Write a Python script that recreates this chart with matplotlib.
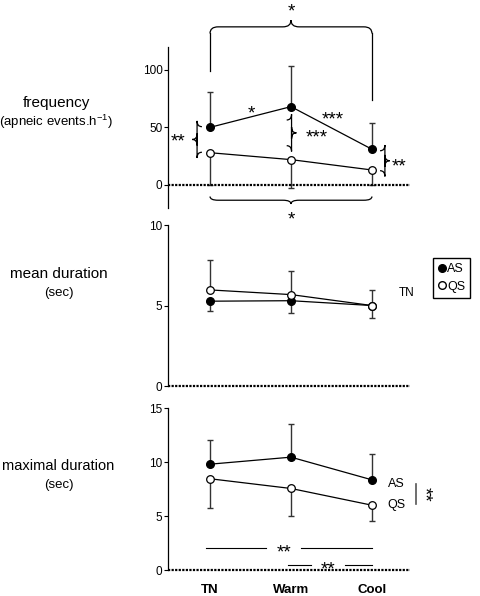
import matplotlib.pyplot as plt
from matplotlib.path import Path
from matplotlib.patches import PathPatch
from matplotlib.lines import Line2D

plt.rcParams['font.family'] = ['Liberation Sans', 'DejaVu Sans']

conditions = ["TN", "Warm", "Cool"]

# frequency (apneic events per hour)
freq_as = [50, 68, 31]
freq_as_sd = [31, 35, 23]
freq_qs = [28, 22, 13]
freq_qs_sd = [28, 25, 13]

# mean duration (sec)
mean_as = [5.27, 5.3, 5.0]
mean_as_sd = [0.6, 0.75, 0.75]
mean_qs = [5.97, 5.68, 5.0]
mean_qs_sd = [1.88, 1.44, 0.97]

# maximal duration (sec)
max_as = [9.8, 10.45, 8.35]
max_as_sd = [2.2, 3.05, 2.4]
max_qs = [8.45, 7.55, 6.0]
max_qs_sd = [2.75, 2.55, 1.5]

x = list(range(len(conditions)))
ERR = '#333333'


def brace_h(ax, x0, x1, y, h, r):
    # horizontal curly brace, tip at the middle at y + h
    xm = (x0 + x1) / 2
    ym = y + h / 2
    verts = [(x0, y), (x0, ym), (x0 + r, ym), (xm - r, ym), (xm, ym), (xm, y + h),
             (xm, ym), (xm + r, ym), (x1 - r, ym), (x1, ym), (x1, y)]
    codes = [Path.MOVETO, Path.CURVE3, Path.CURVE3, Path.LINETO, Path.CURVE3, Path.CURVE3,
             Path.CURVE3, Path.CURVE3, Path.LINETO, Path.CURVE3, Path.CURVE3]
    ax.add_patch(PathPatch(Path(verts, codes), fc='none', ec='k', lw=0.9, clip_on=False))


def brace_v(ax, y0, y1, x, w, r):
    # vertical curly brace, tip at the middle at x + w
    ym = (y0 + y1) / 2
    xm = x + w / 2
    verts = [(x, y0), (xm, y0), (xm, y0 + r), (xm, ym - r), (xm, ym), (x + w, ym),
             (xm, ym), (xm, ym + r), (xm, y1 - r), (xm, y1), (x, y1)]
    codes = [Path.MOVETO, Path.CURVE3, Path.CURVE3, Path.LINETO, Path.CURVE3, Path.CURVE3,
             Path.CURVE3, Path.CURVE3, Path.LINETO, Path.CURVE3, Path.CURVE3]
    ax.add_patch(PathPatch(Path(verts, codes), fc='none', ec='k', lw=0.9, clip_on=False))


def panel(ax, a, a_sd, q, q_sd, a_up, ylim, yticks):
    a_err = [[0] * 3, a_sd] if a_up else [a_sd, [0] * 3]
    q_err = [q_sd, [0] * 3] if a_up else [[0] * 3, q_sd]
    ax.errorbar(x, a, yerr=a_err, fmt='none', ecolor=ERR, elinewidth=1, capsize=2, zorder=1)
    ax.errorbar(x, q, yerr=q_err, fmt='none', ecolor=ERR, elinewidth=1, capsize=2, zorder=1)
    ax.plot(x, a, '-o', color='k', lw=0.9, ms=5.5, mfc='k', mec='k', zorder=3)
    ax.plot(x, q, '-o', color='k', lw=0.9, ms=5.5, mfc='white', mec='k', mew=0.9, zorder=3)
    ax.set_xlim(-0.519, 2.469)
    ax.set_ylim(*ylim)
    ax.set_yticks(yticks)
    ax.axhline(0, color='k', lw=1.6, ls=(0, (1, 0.6)), zorder=2, clip_on=False)
    for s in ['top', 'right', 'bottom']:
        ax.spines[s].set_visible(False)
    ax.spines['left'].set_linewidth(0.9)
    ax.tick_params(axis='y', labelsize=8.5, length=3, width=0.8, pad=1)
    ax.tick_params(axis='x', length=0)
    ax.set_xticks(x)
    ax.set_xticklabels([])


fig = plt.figure(figsize=(4.8, 5.96), dpi=100)
ax1 = fig.add_axes([0.35, 0.651, 0.504, 0.2706])
ax2 = fig.add_axes([0.35, 0.3523, 0.504, 0.2701])
ax3 = fig.add_axes([0.35, 0.0436, 0.504, 0.2718])

panel(ax1, freq_as, freq_as_sd, freq_qs, freq_qs_sd, True, (-20, 120), [0, 50, 100])
panel(ax2, mean_as, mean_as_sd, mean_qs, mean_qs_sd, False, (0, 10), [0, 5, 10])
panel(ax3, max_as, max_as_sd, max_qs, max_qs_sd, True, (0, 15), [0, 5, 10, 15])

ax3.set_xticklabels(conditions, fontsize=9.5, fontweight='bold')
ax3.tick_params(axis='x', pad=10)

# row labels
fig.text(0.117, 1 - 103 / 596, "frequency", ha='center', va='center', fontsize=11)
fig.text(0.117, 1 - 122 / 596, r"(apneic events.h$^{\mathregular{-1}}$)", ha='center', va='center', fontsize=9.5)
fig.text(0.122, 1 - 274 / 596, "mean duration", ha='center', va='center', fontsize=11)
fig.text(0.122, 1 - 293 / 596, "(sec)", ha='center', va='center', fontsize=9.5)
fig.text(0.122, 1 - 466 / 596, "maximal duration", ha='center', va='center', fontsize=10.5)
fig.text(0.122, 1 - 485 / 596, "(sec)", ha='center', va='center', fontsize=9.5)

star = dict(ha='center', va='center', fontsize=13.5, clip_on=False)

# frequency panel significance marks
ax1.plot([0, 0], [99, 131.5], color='k', lw=0.9, clip_on=False)
ax1.plot([2, 2], [74, 131.5], color='k', lw=0.9, clip_on=False)
brace_h(ax1, 0, 2, 131.5, 11.5, 0.1)
ax1.text(1, 150, "*", **star)
brace_h(ax1, 0, 2, -10, -6.5, 0.1)
ax1.text(1, -30, "*", **star)
brace_v(ax1, 50.6, 28.4, -0.10, -0.12, 5)
ax1.text(-0.40, 37, "**", **star)
brace_v(ax1, 56.4, 34.1, 0.947, 0.12, 5)
ax1.text(1.32, 41, "***", **star)
brace_v(ax1, 29.7, 12.4, 2.10, 0.12, 5)
ax1.text(2.34, 16, "**", **star)
ax1.text(0.51, 62, "*", **star)
ax1.text(1.52, 56, "***", **star)

# mean duration panel
ax2.text(2.43, 5.78, "TN", ha='center', va='center', fontsize=8.5)
handles = [Line2D([], [], ls='none', marker='o', ms=5.5, mfc='k', mec='k'),
           Line2D([], [], ls='none', marker='o', ms=5.5, mfc='white', mec='k')]
fig.legend(handles, ["AS", "QS"], loc='upper left', bbox_to_anchor=(0.902, 1 - 258 / 596),
           fontsize=9, frameon=True, fancybox=False, edgecolor='k', framealpha=1,
           handlelength=0.6, handletextpad=0.15, borderpad=0.4, labelspacing=0.45,
           borderaxespad=0)

# maximal duration panel
ax3.text(2.30, 7.95, "AS", ha='center', va='center', fontsize=9)
ax3.text(2.30, 6.05, "QS", ha='center', va='center', fontsize=9)
ax3.plot([2.55, 2.55], [8.0, 6.1], color='#555555', lw=1.2, clip_on=False)
ax3.text(2.635, 7.0, "**", rotation=-90, **star)
ax3.plot([-0.05, 0.69], [2.06, 2.06], color='k', lw=0.8)
ax3.plot([1.12, 2.0], [2.06, 2.06], color='k', lw=0.8)
ax3.text(0.92, 1.6, "**", **star)
ax3.plot([0.96, 1.25], [0.5, 0.5], color='k', lw=0.8)
ax3.plot([1.67, 2.0], [0.5, 0.5], color='k', lw=0.8)
ax3.text(1.46, 0.0, "**", **star)

fig.savefig("out.png", dpi=100)
